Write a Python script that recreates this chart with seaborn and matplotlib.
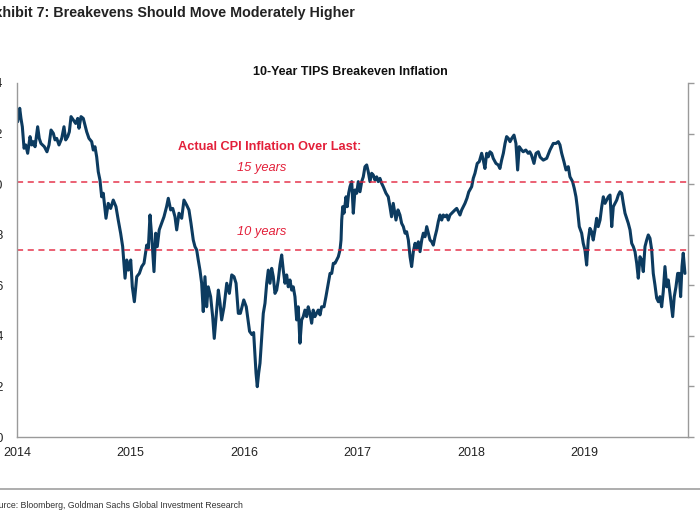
import pandas as pd
import seaborn as sns
import matplotlib.pyplot as plt

# ---------------------------------------------------------------
# datos (anios desde 2014-01-01, breakeven en %)
# ---------------------------------------------------------------
yrs = [0.006, 0.024, 0.035, 0.047, 0.062, 0.077, 0.094, 0.115, 0.130, 0.144,
       0.159, 0.182, 0.196, 0.211, 0.241, 0.264, 0.282, 0.300, 0.320, 0.335,
       0.350, 0.370, 0.394, 0.414, 0.429, 0.447, 0.461, 0.476, 0.496, 0.517,
       0.535, 0.546, 0.564, 0.584, 0.599, 0.614, 0.634, 0.658, 0.672, 0.687,
       0.702, 0.716, 0.731, 0.746, 0.760, 0.784, 0.804, 0.825, 0.848, 0.872,
       0.892, 0.913, 0.931, 0.952, 0.967, 0.981, 1.002, 1.016, 1.034, 1.055,
       1.078, 1.099, 1.119, 1.143, 1.157, 1.172, 1.187, 1.207, 1.222, 1.236,
       1.253, 1.274, 1.295, 1.318, 1.333, 1.354, 1.372, 1.392, 1.407, 1.427,
       1.451, 1.471, 1.495, 1.515, 1.533, 1.553, 1.568, 1.583, 1.597, 1.612,
       1.627, 1.641, 1.656, 1.671, 1.685, 1.706, 1.724, 1.738, 1.759, 1.774,
       1.789, 1.803, 1.824, 1.848, 1.871, 1.892, 1.912, 1.930, 1.950, 1.968,
       1.998, 2.020, 2.032, 2.049, 2.070, 2.085, 2.094, 2.106, 2.117, 2.129,
       2.141, 2.156, 2.170, 2.185, 2.200, 2.214, 2.229, 2.244, 2.258, 2.273,
       2.288, 2.302, 2.317, 2.332, 2.346, 2.361, 2.376, 2.390, 2.405, 2.420,
       2.434, 2.449, 2.464, 2.478, 2.493, 2.508, 2.522, 2.537, 2.552, 2.566,
       2.581, 2.596, 2.610, 2.625, 2.640, 2.654, 2.670, 2.684, 2.705, 2.722,
       2.743, 2.758, 2.773, 2.787, 2.802, 2.817, 2.831, 2.846, 2.855, 2.861,
       2.870, 2.881, 2.899, 2.910, 2.922, 2.934, 2.949, 2.963, 2.978, 2.993,
       3.007, 3.022, 3.037, 3.051, 3.066, 3.081, 3.095, 3.110, 3.125, 3.139,
       3.154, 3.169, 3.183, 3.198, 3.213, 3.227, 3.251, 3.271, 3.286, 3.300,
       3.315, 3.339, 3.357, 3.374, 3.389, 3.404, 3.419, 3.433, 3.448, 3.463,
       3.477, 3.492, 3.507, 3.521, 3.536, 3.551, 3.566, 3.580, 3.595, 3.610,
       3.624, 3.639, 3.654, 3.668, 3.683, 3.698, 3.712, 3.727, 3.742, 3.756,
       3.771, 3.786, 3.800, 3.815, 3.830, 3.844, 3.859, 3.874, 3.888, 3.903,
       3.918, 3.932, 3.947, 3.965, 3.980, 4.006, 4.020, 4.035, 4.055, 4.073,
       4.094, 4.108, 4.123, 4.138, 4.152, 4.167, 4.182, 4.196, 4.220, 4.240,
       4.255, 4.270, 4.285, 4.300, 4.314, 4.329, 4.344, 4.359, 4.379, 4.396,
       4.411, 4.425, 4.446, 4.460, 4.483, 4.504, 4.518, 4.533, 4.555, 4.573,
       4.593, 4.609, 4.637, 4.667, 4.696, 4.725, 4.749, 4.769, 4.784, 4.799,
       4.819, 4.837, 4.857, 4.872, 4.895, 4.910, 4.925, 4.936, 4.954, 4.975,
       4.989, 5.004, 5.019, 5.033, 5.048, 5.063, 5.077, 5.092, 5.107, 5.121,
       5.137, 5.152, 5.166, 5.181, 5.196, 5.210, 5.225, 5.240, 5.254, 5.269,
       5.284, 5.298, 5.313, 5.328, 5.342, 5.357, 5.372, 5.386, 5.401, 5.416,
       5.430, 5.445, 5.460, 5.474, 5.489, 5.504, 5.518, 5.533, 5.548, 5.562,
       5.577, 5.592, 5.606, 5.621, 5.636, 5.651, 5.665, 5.680, 5.694, 5.709,
       5.724, 5.738, 5.753, 5.768, 5.777, 5.791, 5.806, 5.821, 5.835, 5.847,
       5.859, 5.870, 5.885]

breakeven = [2.247, 2.300, 2.260, 2.227, 2.142, 2.155, 2.122, 2.188, 2.155, 2.168,
             2.148, 2.227, 2.181, 2.161, 2.148, 2.128, 2.155, 2.214, 2.201, 2.175,
             2.181, 2.155, 2.181, 2.227, 2.175, 2.188, 2.207, 2.267, 2.254, 2.240,
             2.260, 2.221, 2.267, 2.260, 2.234, 2.207, 2.181, 2.168, 2.135, 2.148,
             2.108, 2.049, 2.016, 1.950, 1.964, 1.865, 1.924, 1.904, 1.937, 1.911,
             1.858, 1.806, 1.753, 1.628, 1.700, 1.660, 1.700, 1.594, 1.535, 1.634,
             1.647, 1.674, 1.687, 1.759, 1.746, 1.878, 1.792, 1.654, 1.806, 1.753,
             1.819, 1.845, 1.871, 1.911, 1.944, 1.898, 1.904, 1.871, 1.819, 1.885,
             1.865, 1.937, 1.917, 1.898, 1.845, 1.779, 1.753, 1.740, 1.700, 1.660,
             1.608, 1.496, 1.634, 1.515, 1.594, 1.555, 1.476, 1.390, 1.502, 1.581,
             1.529, 1.463, 1.515, 1.608, 1.568, 1.641, 1.634, 1.608, 1.489, 1.489,
             1.542, 1.515, 1.476, 1.418, 1.405, 1.413, 1.344, 1.252, 1.199, 1.252,
             1.292, 1.397, 1.489, 1.529, 1.608, 1.660, 1.608, 1.667, 1.634, 1.568,
             1.581, 1.621, 1.680, 1.720, 1.660, 1.608, 1.641, 1.594, 1.621, 1.581,
             1.594, 1.555, 1.463, 1.515, 1.371, 1.463, 1.476, 1.502, 1.476, 1.515,
             1.489, 1.450, 1.502, 1.476, 1.489, 1.502, 1.483, 1.515, 1.515, 1.555,
             1.608, 1.647, 1.647, 1.687, 1.687, 1.700, 1.713, 1.740, 1.779, 1.858,
             1.911, 1.885, 1.950, 1.911, 1.964, 1.990, 2.010, 1.885, 1.977, 1.964,
             2.010, 1.970, 2.010, 2.029, 2.069, 2.076, 2.049, 2.010, 2.043, 2.036,
             2.016, 2.029, 2.010, 2.023, 2.003, 1.990, 1.964, 1.950, 1.911, 1.871,
             1.924, 1.858, 1.898, 1.878, 1.845, 1.832, 1.806, 1.812, 1.779, 1.713,
             1.674, 1.733, 1.766, 1.746, 1.772, 1.733, 1.779, 1.806, 1.792, 1.832,
             1.806, 1.779, 1.772, 1.759, 1.792, 1.819, 1.852, 1.878, 1.858, 1.878,
             1.871, 1.878, 1.858, 1.878, 1.885, 1.891, 1.898, 1.904, 1.891, 1.878,
             1.898, 1.911, 1.924, 1.945, 1.969, 1.990, 2.023, 2.043, 2.082, 2.089,
             2.122, 2.095, 2.062, 2.122, 2.108, 2.128, 2.122, 2.102, 2.082, 2.076,
             2.062, 2.095, 2.122, 2.161, 2.188, 2.181, 2.168, 2.181, 2.194, 2.161,
             2.056, 2.148, 2.135, 2.128, 2.135, 2.122, 2.128, 2.115, 2.082, 2.122,
             2.128, 2.107, 2.095, 2.102, 2.135, 2.161, 2.161, 2.168, 2.155, 2.122,
             2.089, 2.056, 2.069, 2.029, 2.010, 1.983, 1.950, 1.911, 1.832, 1.806,
             1.766, 1.740, 1.680, 1.779, 1.825, 1.812, 1.779, 1.819, 1.865, 1.832,
             1.858, 1.911, 1.950, 1.924, 1.937, 1.950, 1.957, 1.832, 1.911, 1.924,
             1.937, 1.957, 1.970, 1.964, 1.924, 1.885, 1.865, 1.845, 1.819, 1.766,
             1.753, 1.733, 1.687, 1.628, 1.713, 1.700, 1.654, 1.753, 1.779, 1.799,
             1.786, 1.740, 1.647, 1.601, 1.549, 1.535, 1.555, 1.515, 1.575, 1.674,
             1.594, 1.621, 1.568, 1.509, 1.476, 1.555, 1.594, 1.647, 1.647, 1.555,
             1.674, 1.727, 1.647]

cpi_15y = 2.01
cpi_10y = 1.74
year_ticks = [2014, 2015, 2016, 2017, 2018, 2019]
y_ticks = [1.0, 1.2, 1.4, 1.6, 1.8, 2.0, 2.2, 2.4]

start = pd.Timestamp("2014-01-01")
df = pd.DataFrame({
    "fecha": [start + pd.Timedelta(days=t * 365.25) for t in yrs],
    "breakeven": breakeven,
})

sns.set_style("white")
plt.rcParams["font.family"] = ["Liberation Sans", "DejaVu Sans"]

fig = plt.figure(figsize=(7, 5.25), dpi=100)
ax = fig.add_axes([17 / 700, 1 - 437 / 525, (688 - 17) / 700, (437 - 83) / 525])

sns.lineplot(data=df, x="fecha", y="breakeven", ax=ax, color="#0c3b60", linewidth=2.2)

red = "#e3203a"
for lvl in [cpi_15y, cpi_10y]:
    ax.axhline(lvl, color=red, linewidth=1.1, dashes=(4, 3), alpha=0.9)

ax.set_xlim(start, start + pd.Timedelta(days=5.912 * 365.25))
ax.set_ylim(1.0, 2.4)
ax.set_xticks([pd.Timestamp(f"{y}-01-01") for y in year_ticks])
ax.set_xticklabels([str(y) for y in year_ticks])
ax.set_yticks(y_ticks)
ax.set_yticklabels([f"{v:.1f}" for v in y_ticks])
ax.set_xlabel("")
ax.set_ylabel("")

for side in ["left", "bottom", "right"]:
    ax.spines[side].set_color("#9a9a9a")
    ax.spines[side].set_linewidth(1.0)
ax.spines["top"].set_visible(False)
ax.tick_params(axis="both", direction="out", length=4, width=1, color="#9a9a9a",
               labelsize=9, labelcolor="#222222")
ax.tick_params(axis="y", right=True, labelright=True, pad=6)
for t in ax.yaxis.get_major_ticks():
    t.label2.set_color("#e8a030")

# textos
ax.text(start + pd.Timedelta(days=2.23 * 365.25), 2.147, "Actual CPI Inflation Over Last:",
        color=red, fontsize=9.2, fontweight="bold", ha="center", va="center")
ax.text(start + pd.Timedelta(days=2.16 * 365.25), 2.064, "15 years",
        color=red, fontsize=9.3, fontstyle="italic", ha="center", va="center")
ax.text(start + pd.Timedelta(days=2.16 * 365.25), 1.811, "10 years",
        color=red, fontsize=9.3, fontstyle="italic", ha="center", va="center")

fig.text(0.5, 1 - 72 / 525, "10-Year TIPS Breakeven Inflation", fontsize=9,
         fontweight="bold", ha="center", va="center", color="#111111")
fig.text(-15 / 700, 1 - 13 / 525, "Exhibit 7: Breakevens Should Move Moderately Higher",
         fontsize=10.3, fontweight="bold", ha="left", va="center", color="#222222")
fig.text(-12 / 700, 1 - 505 / 525, "Source: Bloomberg, Goldman Sachs Global Investment Research",
         fontsize=6.3, ha="left", va="center", color="#333333")
fig.add_artist(plt.Line2D([0, 1], [1 - 489 / 525, 1 - 489 / 525], color="#a0a0a0",
                          linewidth=1.2, transform=fig.transFigure))

fig.savefig("out.png", dpi=100)
